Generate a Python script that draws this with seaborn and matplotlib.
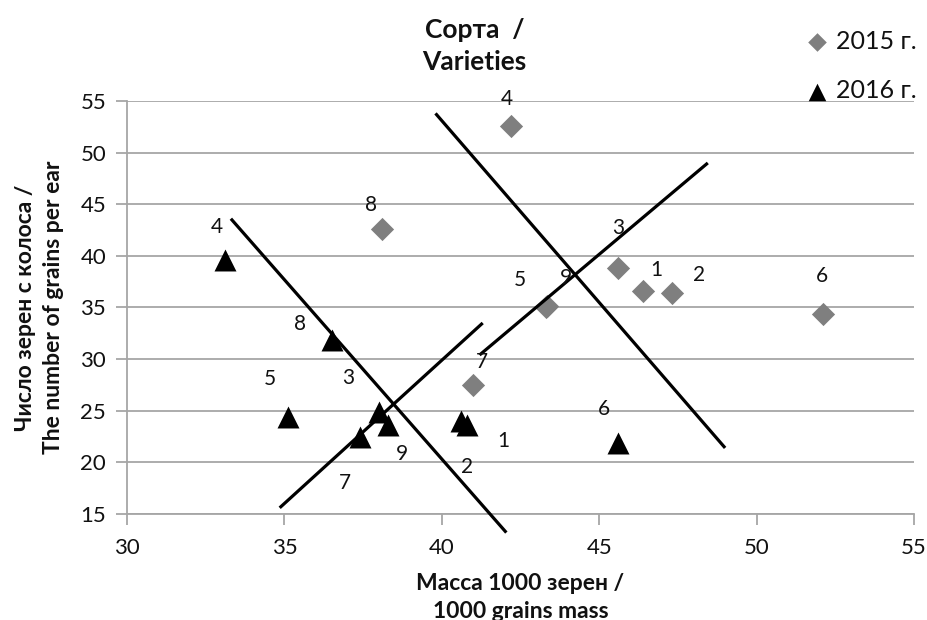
import numpy as np
import pandas as pd
import matplotlib as mpl
from matplotlib import pyplot as plt
import seaborn as sns

# values
variety_2015 = ['1', '2', '3', '4', '5', '6', '7', '8', '9']
mass_2015 = [46.4, 47.3, 45.6, 42.2, 43.3, 52.1, 41.0, 38.1, 43.35]
grains_2015 = [36.6, 36.4, 38.8, 52.6, 35.0, 34.4, 27.5, 42.6, 35.1]

variety_2016 = ['1', '2', '3', '4', '5', '6', '7', '8', '9']
mass_2016 = [40.6, 40.8, 38.0, 33.1, 35.1, 45.6, 37.4, 36.5, 38.3]
grains_2016 = [24.0, 23.6, 24.9, 39.6, 24.4, 21.9, 22.5, 31.9, 23.6]

# hand drawn cross lines (x0, x1), (y0, y1)
cross_2016_down = ([33.3, 42.05], [43.6, 13.2])
cross_2016_up = ([34.85, 41.3], [15.6, 33.5])
cross_2015_down = ([39.8, 49.0], [53.8, 21.4])
cross_2015_up = ([41.2, 48.45], [30.4, 49.0])

# label offsets in pixels (dx, dy)
offs_2015 = [(13, 21), (27, 18), (0, 40), (-4, 27), (-26, 27), (-1, 38), (9, 23), (-11, 24), (19, 28)]
offs_2016 = [(43, -20), (0, -42), (-31, 34), (-8, 33), (-18, 38), (-14, 34), (-15, -46), (-32, 16), (14, -29)]

sns.set_style('white')
plt.rcParams['font.family'] = ['Lato', 'DejaVu Sans']

fig = plt.figure(figsize=(9.27, 6.2), dpi=100)
ax = fig.add_axes([127 / 927, 1 - 514 / 620, 787 / 927, 413 / 620])

df15 = pd.DataFrame({'mass': mass_2015, 'grains': grains_2015, 'v': variety_2015})
df16 = pd.DataFrame({'mass': mass_2016, 'grains': grains_2016, 'v': variety_2016})

sns.scatterplot(data=df15, x='mass', y='grains', marker='D', s=140, color='#7f7f7f',
                linewidth=0, label='2015 г.', ax=ax, zorder=3)
sns.scatterplot(data=df16, x='mass', y='grains', marker='^', s=250, color='black',
                linewidth=0, label='2016 г.', ax=ax, zorder=3)

for cx, cy in [cross_2016_down, cross_2016_up, cross_2015_down, cross_2015_up]:
    ax.plot(cx, cy, color='black', lw=2.3, solid_capstyle='butt', clip_on=False, zorder=4)

for d, offs in [(df15, offs_2015), (df16, offs_2016)]:
    for (_, r), o in zip(d.iterrows(), offs):
        ax.annotate(r['v'], (r['mass'], r['grains']), xytext=o, textcoords='offset pixels',
                    ha='center', va='center', fontsize=15, color='#111111', zorder=5)

ax.set_xlim(30, 55)
ax.set_ylim(15, 55)
ax.set_xticks(range(30, 56, 5))
ax.set_yticks(range(15, 56, 5))
ax.yaxis.grid(True, color='#a6a6a6', lw=1.3)
ax.set_axisbelow(True)
for s in ['top', 'right']:
    ax.spines[s].set_visible(False)
for s in ['left', 'bottom']:
    ax.spines[s].set_color('#a6a6a6')
    ax.spines[s].set_linewidth(1.3)
ax.tick_params(axis='both', labelsize=16, colors='#a6a6a6', labelcolor='#111111',
               direction='out', length=8, width=1.3, pad=7, left=True, bottom=True)
ax.tick_params(axis='x', pad=9)

ax.set_xlabel('Масса 1000 зерен /\n1000 grains mass', fontsize=16.5, fontweight='bold',
              labelpad=11, linespacing=1.4, color='#111111')
ax.set_ylabel('Число зерен с колоса /\nThe number of grains per ear', fontsize=16.5,
              fontweight='bold', labelpad=12, linespacing=1.4, color='#111111')
fig.text(0.512, 0.925, 'Сорта  /\nVarieties', ha='center', va='center', fontsize=19,
         fontweight='bold', linespacing=1.4, color='#111111')

leg = ax.legend(loc='upper left', bbox_to_anchor=(806 / 927, 1 - 30 / 620),
                bbox_transform=fig.transFigure, frameon=False, fontsize=18,
                handlelength=0.9, handletextpad=0.3, labelspacing=1.05,
                borderaxespad=0, borderpad=0, markerscale=0.8)
for t in leg.get_texts():
    t.set_color('#111111')

fig.savefig('out.png', dpi=100)
